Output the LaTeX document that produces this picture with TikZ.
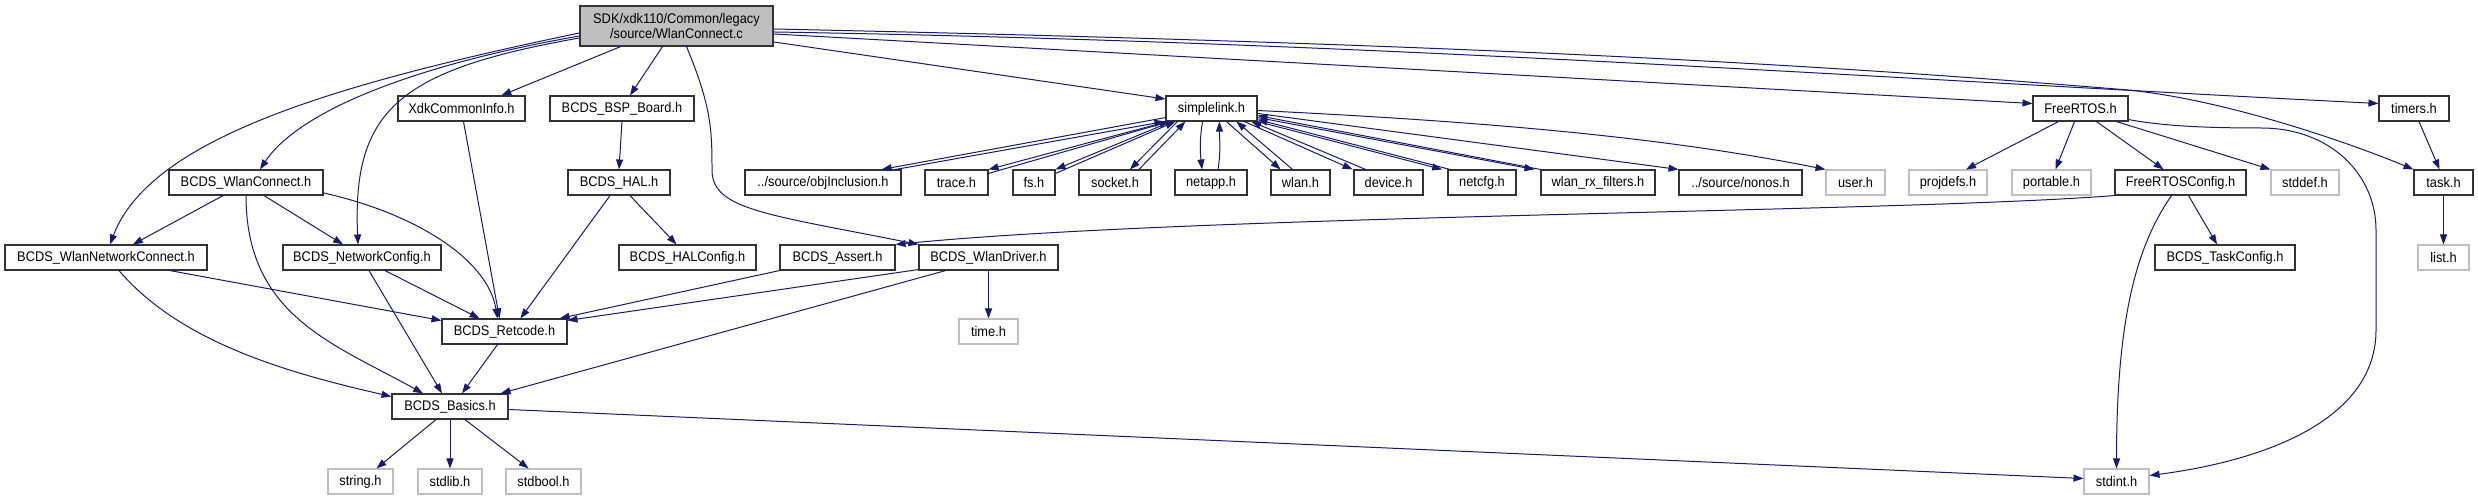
\documentclass[tikz,border=0pt]{standalone}
\usepackage{fontspec}
\setmainfont{Liberation Sans}[FakeStretch=0.92]
\usetikzlibrary{arrows.meta}

\definecolor{edgeblue}{HTML}{191970}
\definecolor{boxgray}{HTML}{BFBFBF}

\tikzset{
  hdr/.style={draw=black!80, fill=white, line width=1.1pt, minimum height=25bp, inner sep=0pt, font=\fontsize{14}{15}\selectfont},
  sys/.style={hdr, draw=boxgray},
  inc/.style={draw=edgeblue, line width=1pt, -{Triangle[length=10pt,width=7pt]}}
}

\begin{document}
\begin{tikzpicture}[x=1bp, y=-1bp]

% Background
\fill[white] (0,0) rectangle (2478,500);

% === TOP FILE ===
\node[hdr, fill=boxgray, minimum width=193bp, minimum height=40bp, align=center] (root) at (676.5,26) {SDK/xdk110/Common/legacy\\/source/WlanConnect.c};

% === ROW 1 ===
\node[hdr, minimum width=127bp] (xdk) at (461.5,108.5) {XdkCommonInfo.h};
\node[hdr, minimum width=144bp] (bsp) at (622,108.5) {BCDS\_BSP\_Board.h};
\node[hdr, minimum width=91bp] (sl) at (1211.5,108.5) {simplelink.h};
\node[hdr, minimum width=95bp] (frtos) at (2080.5,108.5) {FreeRTOS.h};
\node[hdr, minimum width=70bp] (timers) at (2414,108.5) {timers.h};

% === ROW 2 ===
\node[hdr, minimum width=154bp] (wlc) at (246,182.5) {BCDS\_WlanConnect.h};
\node[hdr, minimum width=102bp] (hal) at (619,182.5) {BCDS\_HAL.h};
\node[hdr, minimum width=156bp] (obj) at (823,182.5) {../source/objInclusion.h};
\node[hdr, minimum width=63bp] (trace) at (956.5,182.5) {trace.h};
\node[hdr, minimum width=42bp] (fs) at (1034,182.5) {fs.h};
\node[hdr, minimum width=72bp] (socket) at (1115,182.5) {socket.h};
\node[hdr, minimum width=72bp] (netapp) at (1211,182.5) {netapp.h};
\node[hdr, minimum width=59bp] (wlan) at (1300.5,182.5) {wlan.h};
\node[hdr, minimum width=69bp] (device) at (1388.5,182.5) {device.h};
\node[hdr, minimum width=68bp] (netcfg) at (1482,182.5) {netcfg.h};
\node[hdr, minimum width=114bp] (wrx) at (1598,182.5) {wlan\_rx\_filters.h};
\node[hdr, minimum width=123bp] (nonos) at (1740.5,182.5) {../source/nonos.h};
\node[sys, minimum width=59bp] (user) at (1855.5,182.5) {user.h};
\node[sys, minimum width=78bp] (projdefs) at (1948,182.5) {projdefs.h};
\node[sys, minimum width=79bp] (portable) at (2051.5,182.5) {portable.h};
\node[hdr, minimum width=131bp] (frcfg) at (2180.5,182.5) {FreeRTOSConfig.h};
\node[sys, minimum width=68bp] (stddef) at (2305,182.5) {stddef.h};
\node[hdr, minimum width=59bp] (task) at (2443.5,182.5) {task.h};

% === ROW 3 ===
\node[hdr, minimum width=202bp] (wnc) at (106,257.5) {BCDS\_WlanNetworkConnect.h};
\node[hdr, minimum width=158bp] (netconf) at (362,257.5) {BCDS\_NetworkConfig.h};
\node[hdr, minimum width=137bp] (halcfg) at (687.5,257.5) {BCDS\_HALConfig.h};
\node[hdr, minimum width=115bp] (assert) at (837.5,257.5) {BCDS\_Assert.h};
\node[hdr, minimum width=139bp] (wdrv) at (988.5,257.5) {BCDS\_WlanDriver.h};
\node[hdr, minimum width=140bp] (taskcfg) at (2225,257.5) {BCDS\_TaskConfig.h};
\node[sys, minimum width=51bp] (list) at (2443.5,257.5) {list.h};

% === ROWS 4-6 ===
\node[hdr, minimum width=125bp] (retcode) at (504.5,331.5) {BCDS\_Retcode.h};
\node[sys, minimum width=59bp] (time) at (988.5,331.5) {time.h};
\node[hdr, minimum width=116bp] (basics) at (450,406.5) {BCDS\_Basics.h};
\node[sys, minimum width=65bp] (string) at (360.5,481.5) {string.h};
\node[sys, minimum width=64bp] (stdlib) at (450,481.5) {stdlib.h};
\node[sys, minimum width=75bp] (stdbool) at (543.5,481.5) {stdbool.h};
\node[sys, minimum width=65bp] (stdint) at (2116.5,481.5) {stdint.h};

% === EDGES FROM THE TOP FILE ===
\draw[inc] ([yshift=-7pt]root.west) .. controls +(-250,52) and +(40,-105) .. ([xshift=4pt]wnc.north);
\draw[inc] ([yshift=-10pt]root.west) .. controls +(-160,28) and +(40,-60) .. ([xshift=14pt]wlc.north);
\draw[inc] ([yshift=-12pt]root.west) .. controls +(-180,32) and +(-6,-135) .. ([xshift=-4pt]netconf.north);
\draw[inc] ([xshift=-56pt]root.south) -- ([xshift=40pt]xdk.north);
\draw[inc] ([xshift=-14pt]root.south) -- ([xshift=8pt]bsp.north);
\draw[inc] ([xshift=10pt]root.south) .. controls +(25,60) and +(0,-40) .. (712,170) .. controls +(0,40) and +(-150,-30) .. (wdrv.north west);
\draw[inc] ([yshift=-16pt]root.east) -- ([yshift=9.5pt]sl.west);
\draw[inc] ([yshift=-8pt]root.east) -- ([yshift=5pt]frtos.west);
\draw[inc] ([yshift=-6pt]root.east) .. controls +(600,10) and +(-500,-25) .. ([yshift=5pt]timers.west);
\draw[inc] ([yshift=-3pt]root.east) .. controls +(700,15) and +(-300,-25) .. (2128,90) .. controls +(100,10) and +(-60,-25) .. (task.north west);

% === LEFT PART ===
\draw[inc] ([xshift=-23pt]wlc.south) -- ([xshift=27pt]wnc.north);
\draw[inc] ([xshift=18pt]wlc.south) -- ([xshift=-19pt]netconf.north);
\draw[inc] (wlc.south) .. controls +(0,120) and +(-90,-50) .. ([xshift=-27pt]basics.north);
\draw[inc] ([yshift=-10.5pt]wlc.east) .. controls +(90,20) and +(-10,-60) .. ([xshift=-7pt]retcode.north);
\draw[inc] ([xshift=64pt]wnc.south) -- ([yshift=11pt]retcode.west);
\draw[inc] ([xshift=13pt]wnc.south) .. controls +(60,70) and +(-110,-25) .. ([yshift=10pt]basics.west);
\draw[inc] ([xshift=23pt]netconf.south) -- ([xshift=-25pt]retcode.north);
\draw[inc] ([xshift=7pt]netconf.south) -- ([xshift=-8pt]basics.north);
\draw[inc] ([xshift=2pt]xdk.south) -- ([xshift=-5pt]retcode.north);
\draw[inc] (bsp.south) -- (hal.north);
\draw[inc] ([xshift=11pt]hal.south) -- ([xshift=-11pt]halcfg.north);
\draw[inc] ([xshift=-9pt]hal.south) -- ([xshift=16pt]retcode.north);
\draw[inc] (assert.south west) -- ([xshift=-8pt]retcode.north east);
\draw[inc] ([yshift=1pt]wdrv.south west) -- ([yshift=-2pt]retcode.north east);
\draw[inc] ([xshift=-43pt]wdrv.south) -- ([xshift=-8pt]basics.north east);
\draw[inc] (wdrv.south) -- (time.north);
\draw[inc] ([xshift=-7pt]retcode.south) -- ([xshift=12pt]basics.north);
\draw[inc] ([xshift=-14pt]basics.south) -- ([xshift=16pt]string.north);
\draw[inc] (basics.south) -- (stdlib.north);
\draw[inc] ([xshift=15pt]basics.south) -- ([xshift=-15pt]stdbool.north);
\draw[inc] ([yshift=-3pt]basics.east) -- ([yshift=3pt]stdint.west);

% === SIMPLELINK FAN ===
\draw[inc] ([yshift=4pt]sl.south west) -- ([xshift=-20pt]obj.north east);
\draw[inc] ([xshift=-6pt]obj.north east) -- ([xshift=-1pt]sl.south west);
\draw[inc] ([xshift=2pt]sl.south west) -- (trace.north east);
\draw[inc] ([yshift=-4pt]trace.north east) -- ([xshift=4pt]sl.south west);
\draw[inc] ([xshift=6pt]sl.south west) -- (fs.north east);
\draw[inc] ([yshift=-4pt]fs.north east) -- ([xshift=10pt]sl.south west);
\draw[inc] ([xshift=12pt]sl.south west) -- ([xshift=15pt]socket.north);
\draw[inc] ([xshift=24pt]socket.north) -- ([xshift=20pt]sl.south west);
\draw[inc] ([xshift=-9pt]sl.south) .. controls +(-3,18) and +(-2,-18) .. ([xshift=-9pt]netapp.north);
\draw[inc] ([xshift=7pt]netapp.north) .. controls +(3,-18) and +(0,18) .. ([xshift=8pt]sl.south);
\draw[inc] ([xshift=15pt]sl.south) -- ([xshift=-20pt]wlan.north);
\draw[inc] ([xshift=-8pt]wlan.north) -- ([xshift=25pt]sl.south);
\draw[inc] ([xshift=33pt]sl.south) -- ([xshift=-36pt]device.north);
\draw[inc] ([xshift=-23pt]device.north) -- ([xshift=40pt]sl.south);
\draw[inc] (sl.south east) -- ([xshift=-40pt]netcfg.north);
\draw[inc] ([xshift=-32pt]netcfg.north) -- ([yshift=2pt]sl.south east);
\draw[inc] ([yshift=4pt]sl.south east) -- ([xshift=-6pt]wrx.north west);
\draw[inc] (wrx.north west) -- ([yshift=6pt]sl.south east);
\draw[inc] ([yshift=-5pt]sl.east) -- (nonos.north west);
\draw[inc] ([yshift=-2pt]sl.east) .. controls +(250,12) and +(-150,-30) .. (user.north west);

% === FREERTOS PART ===
\draw[inc] ([xshift=-22pt]frtos.south) -- ([xshift=18pt]projdefs.north);
\draw[inc] ([xshift=-6pt]frtos.south) -- ([xshift=4pt]portable.north);
\draw[inc] ([xshift=16pt]frtos.south) -- ([xshift=-17pt]frcfg.north);
\draw[inc] ([xshift=36pt]frtos.south) -- (stddef.north west);
\draw[inc] ([yshift=2pt]frtos.south east) .. controls +(32,6) and +(-60,0) .. (2261,128) .. controls +(70,0) and +(0,-55) .. (2376,230) -- (2376,330) .. controls +(0,90) and +(115,-15) .. ([yshift=6pt]stdint.east);
\draw[inc] ([xshift=-9pt]frcfg.south) .. controls +(-35,50) and +(0,-150) .. (stdint.north);
\draw[inc] ([xshift=8pt]frcfg.south) -- ([xshift=-8pt]taskcfg.north);
\draw[inc] (frcfg.south west) .. controls +(-215,17) and +(303,-30) .. (assert.north east);
\draw[inc] ([xshift=5pt]timers.south) -- ([xshift=-4pt]task.north);
\draw[inc] (task.south) -- (list.north);

\end{tikzpicture}
\end{document}
